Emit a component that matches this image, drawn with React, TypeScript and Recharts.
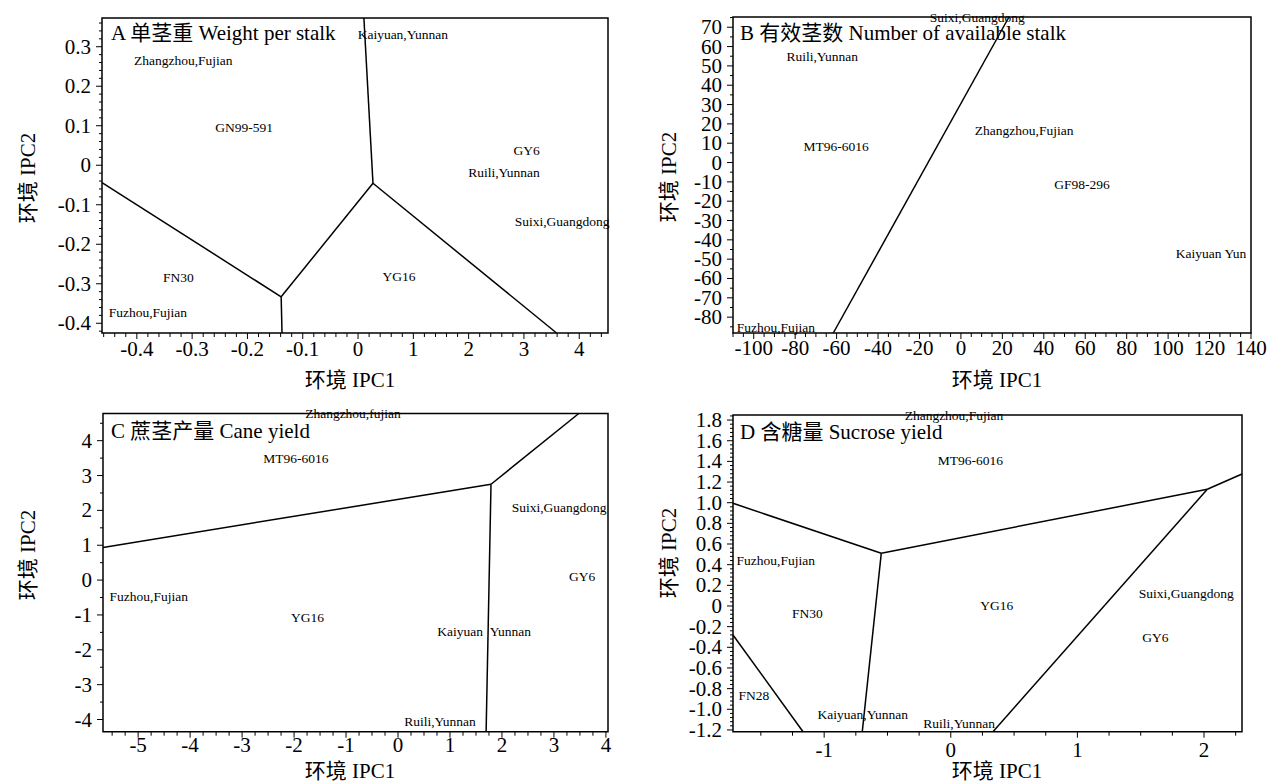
import React from 'react';
import { ComposedChart, XAxis, YAxis, Line, Scatter, ReferenceArea } from 'recharts';

const FONT = "'Liberation Serif', 'Times New Roman', 'Noto Sans CJK SC', serif";

type XY = [number, number];
type PointLabel = { name: string; x: number; y: number };

// ---------- A 单茎重 Weight per stalk ----------
// the printed x axis runs -0.4 .. -0.1 and then 0 .. 4 with equal spacing
const aXTickLabels = ['-0.4', '-0.3', '-0.2', '-0.1', '0', '1', '2', '3', '4'];
const aYTicks = [-0.4, -0.3, -0.2, -0.1, 0, 0.1, 0.2, 0.3];
const aSectors: XY[][] = [
  [[-0.463, -0.044], [-0.139, -0.333]],
  [[-0.139, -0.333], [-0.1375, -0.4246]],
  [[-0.139, -0.333], [0.27, -0.0456]],
  [[0.27, -0.0456], [0.106, 0.3727]],
  [[0.27, -0.0456], [3.59, -0.4246]],
];
const aPoints: PointLabel[] = [
  { name: 'Kaiyuan,Yunnan', x: 0.81, y: 0.332 },
  { name: 'Zhangzhou,Fujian', x: -0.316, y: 0.265 },
  { name: 'GN99-591', x: -0.206, y: 0.095 },
  { name: 'GY6', x: 3.05, y: 0.037 },
  { name: 'Ruili,Yunnan', x: 2.64, y: -0.019 },
  { name: 'Suixi,Guangdong', x: 3.69, y: -0.143 },
  { name: 'FN30', x: -0.325, y: -0.285 },
  { name: 'YG16', x: 0.74, y: -0.282 },
  { name: 'Fuzhou,Fujian', x: -0.38, y: -0.373 },
];
const aPos = (v: number) => (v < 0 ? v * 10 : v);

// ---------- B 有效茎数 Number of available stalk ----------
const bXTicks = [-100, -80, -60, -40, -20, 0, 20, 40, 60, 80, 100, 120, 140];
const bYTicks = [-80, -70, -60, -50, -40, -30, -20, -10, 0, 10, 20, 30, 40, 50, 60, 70];
const bSectors: XY[][] = [
  [[-61.6, -88.2], [23.2, 75.3]],
];
const bPoints: PointLabel[] = [
  { name: 'Suixi,Guangdong', x: 7.9, y: 75.3 },
  { name: 'Ruili,Yunnan', x: -66.9, y: 54.8 },
  { name: 'MT96-6016', x: -60.2, y: 8.3 },
  { name: 'Zhangzhou,Fujian', x: 30.5, y: 16.4 },
  { name: 'GF98-296', x: 58.5, y: -11.5 },
  { name: 'Kaiyuan Yun', x: 120.7, y: -47.2 },
  { name: 'Fuzhou,Fujian', x: -89.3, y: -85.6 },
];

// ---------- C 蔗茎产量 Cane yield ----------
const cXTicks = [-5, -4, -3, -2, -1, 0, 1, 2, 3, 4];
const cYTicks = [-4, -3, -2, -1, 0, 1, 2, 3, 4];
const cSectors: XY[][] = [
  [[-5.676, 0.937], [1.789, 2.75]],
  [[1.789, 2.75], [3.478, 4.78]],
  [[1.789, 2.75], [1.695, -4.35]],
];
const cPoints: PointLabel[] = [
  { name: 'Zhangzhou,fujian', x: -0.867, y: 4.78 },
  { name: 'MT96-6016', x: -1.965, y: 3.49 },
  { name: 'Suixi,Guangdong', x: 3.1, y: 2.08 },
  { name: 'GY6', x: 3.544, y: 0.095 },
  { name: 'Fuzhou,Fujian', x: -4.796, y: -0.478 },
  { name: 'YG16', x: -1.743, y: -1.069 },
  { name: 'Kaiyuan\u00a0\u00a0Yunnan', x: 1.656, y: -1.48 },
  { name: 'Ruili,Yunnan', x: 0.809, y: -4.06 },
];

// ---------- D 含糖量 Sucrose yield ----------
const dXTicks = [-1, 0, 1, 2];
const dYTicks = [-1.2, -1.0, -0.8, -0.6, -0.4, -0.2, 0, 0.2, 0.4, 0.6, 0.8, 1.0, 1.2, 1.4, 1.6, 1.8];
const dSectors: XY[][] = [
  [[-1.72, 0.994], [-0.549, 0.51]],
  [[-0.549, 0.51], [2.026, 1.13]],
  [[2.026, 1.13], [2.3, 1.278]],
  [[-0.549, 0.51], [-0.699, -1.217]],
  [[2.026, 1.13], [0.333, -1.217]],
  [[-1.72, -0.281], [-1.167, -1.217]],
];
const dPoints: PointLabel[] = [
  { name: 'Zhangzhou,Fujian', x: 0.025, y: 1.849 },
  { name: 'MT96-6016', x: 0.154, y: 1.407 },
  { name: 'Fuzhou,Fujian', x: -1.382, y: 0.436 },
  { name: 'Suixi,Guangdong', x: 1.86, y: 0.123 },
  { name: 'YG16', x: 0.364, y: 0.003 },
  { name: 'FN30', x: -1.133, y: -0.077 },
  { name: 'GY6', x: 1.615, y: -0.303 },
  { name: 'FN28', x: -1.556, y: -0.871 },
  { name: 'Kaiyuan,Yunnan', x: -0.695, y: -1.055 },
  { name: 'Ruili,Yunnan', x: 0.066, y: -1.136 },
];

type Major = { v: number; label: string };

interface PanelCfg {
  box: { x: number; y: number; w: number; h: number };
  frame: { l: number; t: number; r: number; b: number };
  xDomain: [number, number];
  yDomain: [number, number];
  xMajor: Major[];
  yMajor: Major[];
  xMinorStep: number;
  yMinorStep: number;
  xGap: number;
  sectors: XY[][];
  points: PointLabel[];
  xPos?: (v: number) => number;
  title: string;
  titleAt: [number, number];
  xTitleAt: [number, number];
  yTitleAt: [number, number];
}

const minorTicks = (d: [number, number], step: number, majors: Major[]) => {
  const out: number[] = [];
  for (let k = Math.ceil(d[0] / step - 1e-9); k * step <= d[1] + 1e-9; k++) {
    const v = +(k * step).toFixed(6);
    if (!majors.some(m => Math.abs(m.v - v) < step / 10)) out.push(v);
  }
  return out;
};

const findMajor = (majors: Major[], v: number) => majors.find(m => Math.abs(m.v - v) < 1e-6);

const textStyle = { fontFamily: FONT, fill: '#000' };

const Panel: React.FC<{ cfg: PanelCfg }> = ({ cfg }) => {
  const { box, frame } = cfg;
  const pos = cfg.xPos || ((v: number) => v);
  const margin = { top: frame.t - box.y, right: box.x + box.w - frame.r, bottom: 0, left: 0 };
  const yW = frame.l - box.x;
  const xH = box.y + box.h - frame.b;
  const xTicks = [...cfg.xMajor.map(m => m.v), ...minorTicks(cfg.xDomain, cfg.xMinorStep, cfg.xMajor)];
  const yTicks = [...cfg.yMajor.map(m => m.v), ...minorTicks(cfg.yDomain, cfg.yMinorStep, cfg.yMajor)];

  const XTick = (props: any) => {
    const { x, y, payload } = props;
    const m = findMajor(cfg.xMajor, payload.value);
    return (
      <g>
        <line x1={x} x2={x} y1={y} y2={y + (m ? 6 : 4)} stroke="#000" strokeWidth={1} />
        {m && (
          <text x={x} y={y + cfg.xGap} textAnchor="middle" dominantBaseline="central" fontSize={21} {...textStyle}>
            {m.label}
          </text>
        )}
      </g>
    );
  };

  const YTick = (props: any) => {
    const { x, y, payload } = props;
    const m = findMajor(cfg.yMajor, payload.value);
    return (
      <g>
        <line x1={x} x2={x - (m ? 6 : 3)} y1={y} y2={y} stroke="#000" strokeWidth={1} />
        {m && (
          <text x={x - 11} y={y} textAnchor="end" dominantBaseline="central" fontSize={21} {...textStyle}>
            {m.label}
          </text>
        )}
      </g>
    );
  };

  const local = (p: [number, number]) => [p[0] - box.x, p[1] - box.y];
  const [tx, ty] = local(cfg.titleAt);
  const [xtx, xty] = local(cfg.xTitleAt);
  const [ytx, yty] = local(cfg.yTitleAt);

  const pointShape = (props: any) => (
    <text x={props.cx} y={props.cy} textAnchor="middle" dominantBaseline="central" fontSize={13.5} {...textStyle}>
      {props.payload.name}
    </text>
  );

  return (
    <div style={{ position: 'absolute', left: box.x, top: box.y }}>
      <ComposedChart width={box.w} height={box.h} margin={margin}>
        <XAxis
          type="number"
          dataKey="x"
          domain={cfg.xDomain}
          ticks={xTicks}
          interval={0}
          tickSize={0}
          tickMargin={0}
          axisLine={false}
          tickLine={false}
          tick={XTick}
          height={xH}
          label={() => (
            <text x={xtx} y={xty} textAnchor="middle" fontSize={21} {...textStyle}>
              环境 IPC1
            </text>
          )}
        />
        <YAxis
          type="number"
          dataKey="y"
          domain={cfg.yDomain}
          ticks={yTicks}
          interval={0}
          tickSize={0}
          tickMargin={0}
          axisLine={false}
          tickLine={false}
          tick={YTick}
          width={yW}
          label={() => (
            <text
              x={ytx}
              y={yty}
              textAnchor="middle"
              dominantBaseline="central"
              transform={`rotate(-90, ${ytx}, ${yty})`}
              fontSize={21}
              {...textStyle}
            >
              环境 IPC2
            </text>
          )}
        />
        <ReferenceArea
          x1={cfg.xDomain[0]}
          x2={cfg.xDomain[1]}
          y1={cfg.yDomain[0]}
          y2={cfg.yDomain[1]}
          fill="none"
          stroke="#000"
          strokeWidth={1.5}
          label={() => (
            <text x={tx} y={ty} dominantBaseline="central" fontSize={21} {...textStyle}>
              {cfg.title}
            </text>
          )}
        />
        {cfg.sectors.map((seg, i) => (
          <Line
            key={i}
            data={seg.map(([x, y]) => ({ x: pos(x), y }))}
            dataKey="y"
            type="linear"
            stroke="#000"
            strokeWidth={1.5}
            dot={false}
            activeDot={false}
            isAnimationActive={false}
          />
        ))}
        <Scatter
          data={cfg.points.map(p => ({ ...p, x: pos(p.x) }))}
          shape={pointShape}
          isAnimationActive={false}
        />
      </ComposedChart>
    </div>
  );
};

const numMajors = (ticks: number[], fmt: (v: number) => string = v => String(v)) =>
  ticks.map(v => ({ v, label: fmt(v) }));

const panels: PanelCfg[] = [
  {
    box: { x: 0, y: 0, w: 634, h: 395 },
    frame: { l: 102, t: 18, r: 608, b: 333 },
    xDomain: [-4.63, 4.52],
    yDomain: [-0.4246, 0.3727],
    xMajor: aXTickLabels.map((label, i) => ({ v: i - 4, label })),
    yMajor: numMajors(aYTicks),
    xMinorStep: 0.2,
    yMinorStep: 0.02,
    xGap: 16,
    sectors: aSectors,
    points: aPoints,
    xPos: aPos,
    title: 'A  单茎重 Weight per stalk',
    titleAt: [111, 33],
    xTitleAt: [350, 387],
    yTitleAt: [28, 178],
  },
  {
    box: { x: 634, y: 0, w: 635, h: 395 },
    frame: { l: 733, t: 17, r: 1251, b: 333 },
    xDomain: [-110, 140],
    yDomain: [-88.2, 75.3],
    xMajor: numMajors(bXTicks),
    yMajor: numMajors(bYTicks),
    xMinorStep: 5,
    yMinorStep: 5,
    xGap: 15,
    sectors: bSectors,
    points: bPoints,
    title: 'B 有效茎数 Number of available stalk',
    titleAt: [740, 33],
    xTitleAt: [997, 387],
    yTitleAt: [669, 177],
  },
  {
    box: { x: 0, y: 395, w: 634, h: 387 },
    frame: { l: 103, t: 413.5, r: 608, b: 731.7 },
    xDomain: [-5.676, 4.04],
    yDomain: [-4.35, 4.78],
    xMajor: numMajors(cXTicks),
    yMajor: numMajors(cYTicks),
    xMinorStep: 0.25,
    yMinorStep: 0.5,
    xGap: 13,
    sectors: cSectors,
    points: cPoints,
    title: 'C  蔗茎产量 Cane yield',
    titleAt: [111, 431],
    xTitleAt: [350, 778],
    yTitleAt: [28, 555],
  },
  {
    box: { x: 634, y: 395, w: 635, h: 387 },
    frame: { l: 733, t: 415, r: 1242, b: 731.7 },
    xDomain: [-1.72, 2.3],
    yDomain: [-1.217, 1.849],
    xMajor: numMajors(dXTicks),
    yMajor: numMajors(dYTicks, v => (v === 0 ? '0' : v.toFixed(1))),
    xMinorStep: 0.25,
    yMinorStep: 0.04,
    xGap: 18,
    sectors: dSectors,
    points: dPoints,
    title: 'D  含糖量 Sucrose yield',
    titleAt: [740, 432],
    xTitleAt: [997, 778],
    yTitleAt: [669, 553],
  },
];

export default function App() {
  return (
    <div style={{ position: 'fixed', left: 0, top: 0, width: 1269, height: 782, background: '#fff', overflow: 'hidden' }}>
      {panels.map((cfg, i) => (
        <Panel key={i} cfg={cfg} />
      ))}
    </div>
  );
}
